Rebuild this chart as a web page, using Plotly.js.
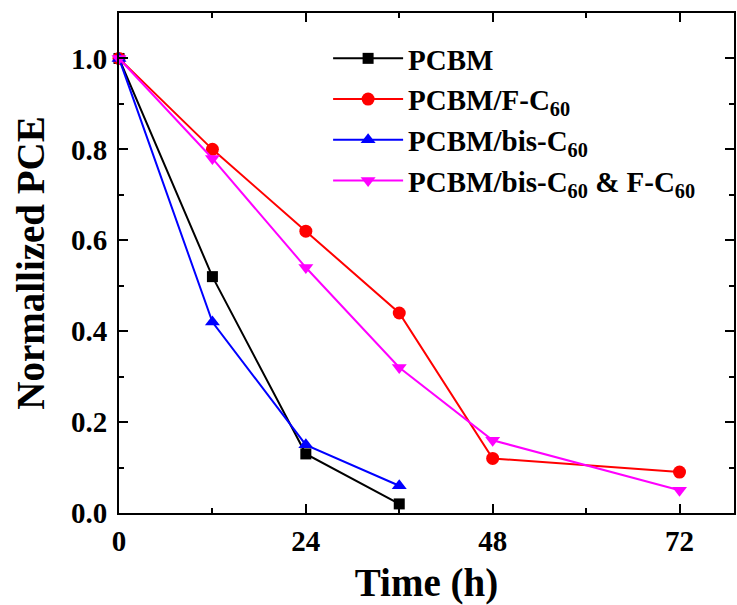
<!DOCTYPE html>
<html><head><meta charset="utf-8">
<script src="https://cdn.plot.ly/plotly-3.0.1.min.js"></script>
<style>html,body{margin:0;padding:0;background:#fff}</style>
</head><body>
<div id="chart" style="width:737px;height:605px"></div>
<script>
const timeLong = [0, 12, 24, 36, 48, 72];
const timeShort = [0, 12, 24, 36];
const pcbm = [1.0, 0.52, 0.13, 0.02];
const pcbmF = [1.0, 0.80, 0.62, 0.44, 0.12, 0.09];
const pcbmBis = [1.0, 0.42, 0.15, 0.06];
const pcbmBisF = [1.0, 0.78, 0.54, 0.32, 0.16, 0.05];
const names = ['PCBM', 'PCBM/F-C<sub>60</sub>', 'PCBM/bis-C<sub>60</sub>', 'PCBM/bis-C<sub>60</sub> &amp; F-C<sub>60</sub>'];
const xTicks = [0, 24, 48, 72];
const yTicks = [0.0, 0.2, 0.4, 0.6, 0.8, 1.0];
const yTickText = ['0.0', '0.2', '0.4', '0.6', '0.8', '1.0'];

const mk = (x, y, name, color, symbol, size) => ({
  x, y, name, type: 'scatter', mode: 'lines+markers',
  line: {color, width: 2},
  marker: {color, symbol, size},
  cliponaxis: false
});
const data = [
  mk(timeShort, pcbm, names[0], '#000000', 'square', 11),
  mk(timeLong, pcbmF, names[1], '#ff0000', 'circle', 13),
  mk(timeShort, pcbmBis, names[2], '#0000ff', 'triangle-up', 13),
  mk(timeLong, pcbmBisF, names[3], '#ff00ff', 'triangle-down', 13)
];
const axFont = {family: 'Liberation Serif', size: 29, color: '#000', weight: 'bold'};
const titleFont = {family: 'Liberation Serif', size: 39, color: '#000', weight: 'bold'};
const layout = {
  width: 737, height: 605,
  margin: {l: 119, r: 3, t: 13, b: 92},
  paper_bgcolor: '#fff', plot_bgcolor: '#fff',
  showlegend: true,
  legend: {x: 0.34, y: 0.96, xanchor: 'left', yanchor: 'top',
    font: {family: 'Liberation Serif', size: 29, color: '#000', weight: 'bold'},
    bgcolor: 'rgba(0,0,0,0)', itemwidth: 70, tracegroupgap: 0},
  xaxis: {range: [0, 79], tickvals: xTicks, ticktext: xTicks.map(String),
    ticks: 'inside', ticklen: 9, tickwidth: 2, tickcolor: '#000', ticklabelstandoff: 1,
    minor: {tickvals: [12, 36, 60], ticks: 'inside', ticklen: 5, tickwidth: 2, tickcolor: '#000'},
    showline: true, linewidth: 2, linecolor: '#000', mirror: 'ticks',
    showgrid: false, zeroline: false, tickfont: axFont,
    title: {text: 'Time (h)', font: titleFont, standoff: 14}},
  yaxis: {range: [0, 1.1], tickvals: yTicks, ticktext: yTickText,
    ticks: 'inside', ticklen: 9, tickwidth: 2, tickcolor: '#000', ticklabelstandoff: 4,
    minor: {tickvals: [0.1, 0.3, 0.5, 0.7, 0.9], ticks: 'inside', ticklen: 5, tickwidth: 2, tickcolor: '#000'},
    showline: true, linewidth: 2, linecolor: '#000', mirror: 'ticks',
    showgrid: false, zeroline: false, tickfont: axFont,
    title: {text: 'Normallized PCE', font: titleFont, standoff: 14}}
};
Plotly.newPlot('chart', data, layout, {displayModeBar: false, staticPlot: true});
</script>
</body></html>
